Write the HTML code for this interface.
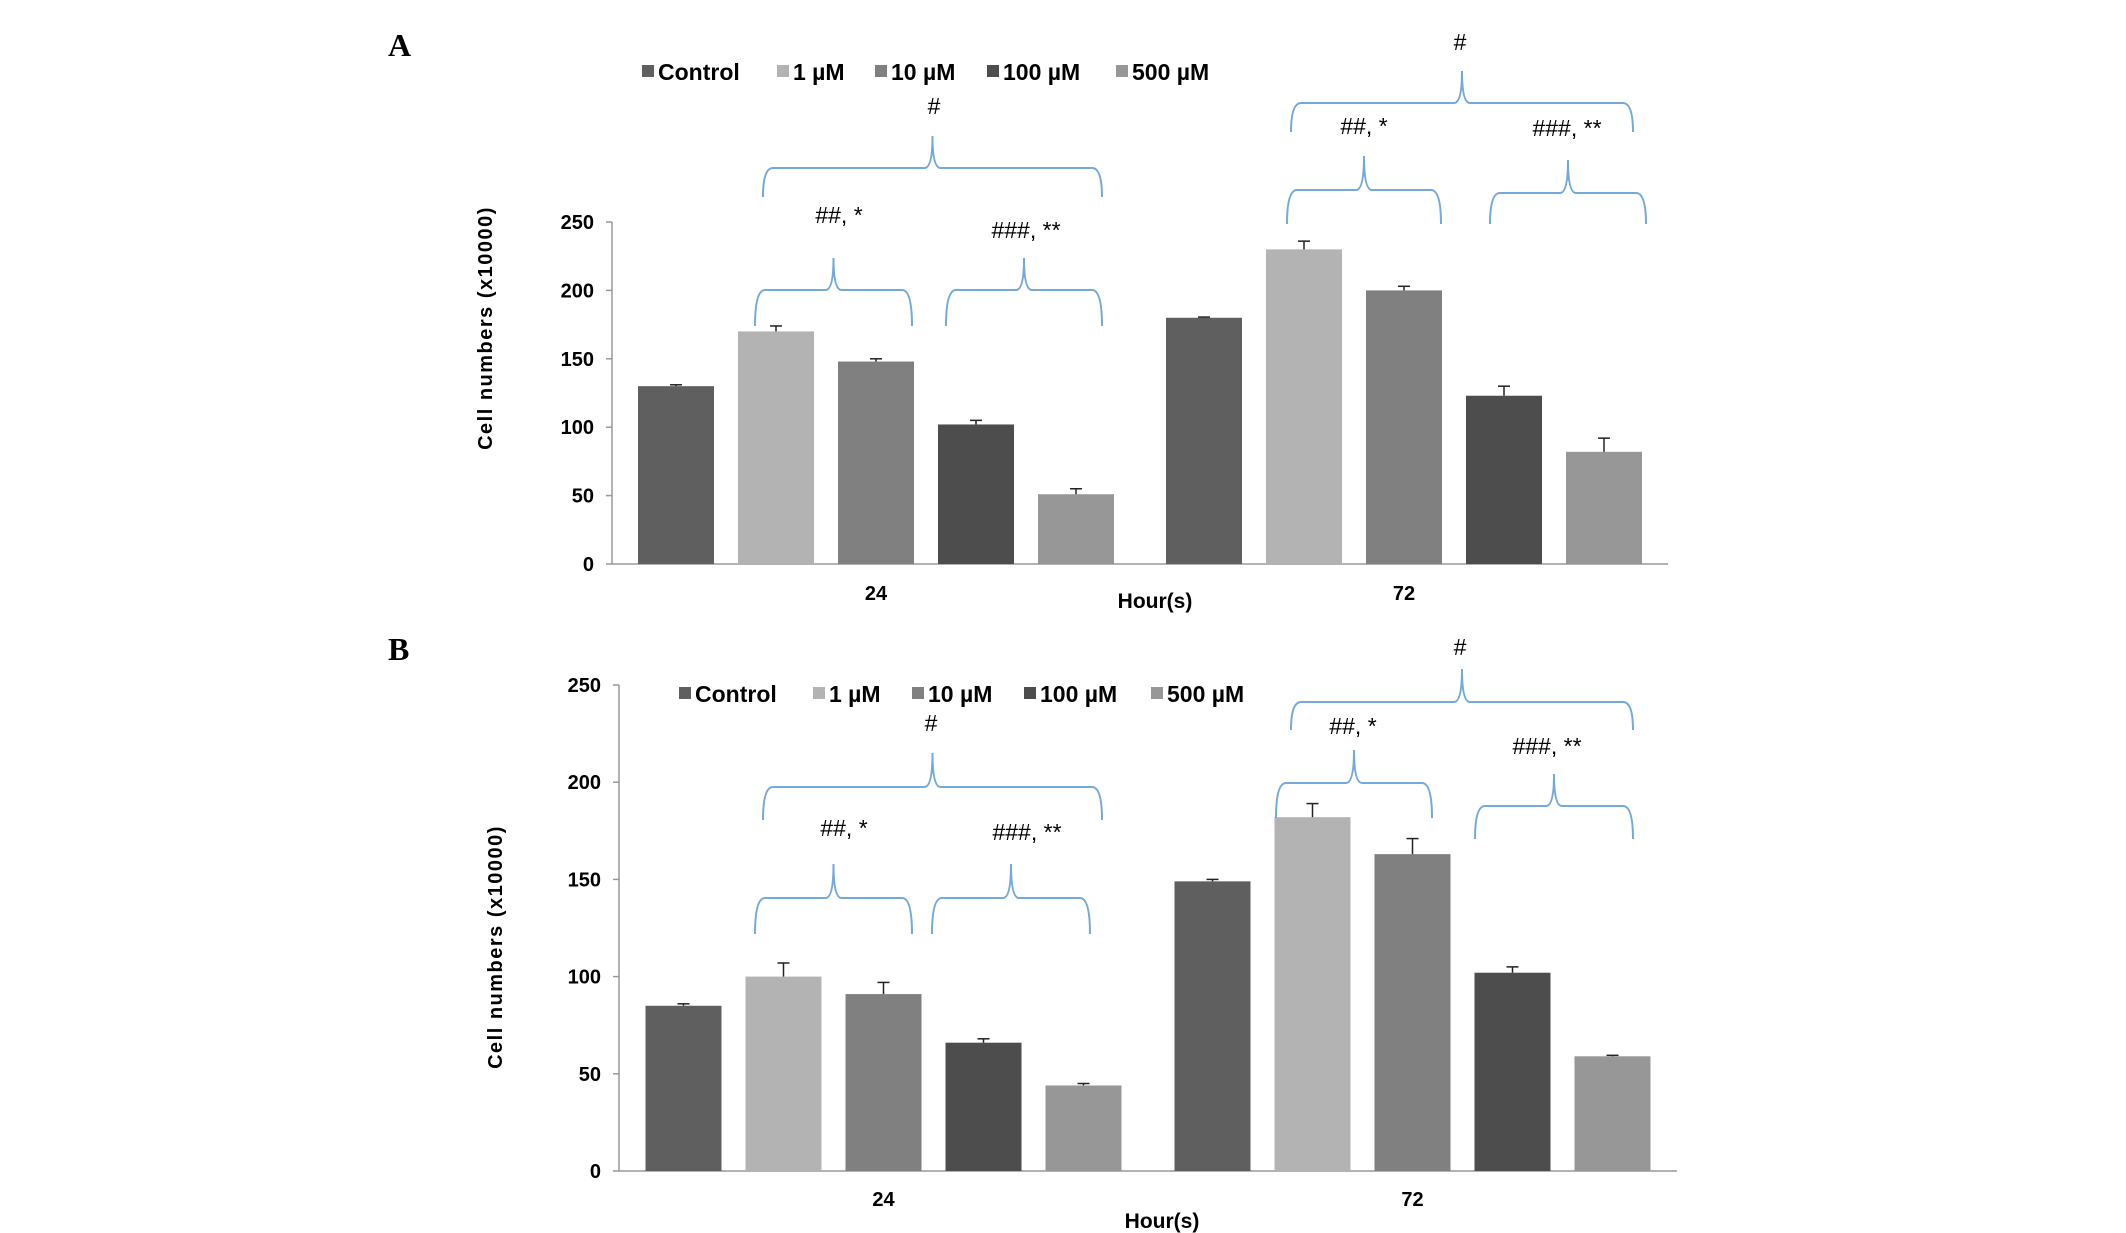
<!DOCTYPE html>
<html><head><meta charset="utf-8"><style>
html,body{margin:0;padding:0;background:#fff;}
svg{display:block;}
</style></head><body>
<svg id="fig" width="2126" height="1233" viewBox="0 0 2126 1233" xmlns="http://www.w3.org/2000/svg"></svg>
<script>
const categories = ["24", "72"];
const seriesNames = ["Control", "1 µM", "10 µM", "100 µM", "500 µM"];
const seriesColors = ["#5f5f5f", "#b3b3b3", "#808080", "#4d4d4d", "#979797"];
const yTicks = [0, 50, 100, 150, 200, 250];
// Panel A values [series][category]
const aControl = [130, 180];
const a1uM = [170, 230];
const a10uM = [148, 200];
const a100uM = [102, 123];
const a500uM = [51, 82];
const aErrors = [[1, 0.5], [4, 6], [2, 3], [3, 7], [4, 10]];
// Panel B values
const bControl = [85, 149];
const b1uM = [100, 182];
const b10uM = [91, 163];
const b100uM = [66, 102];
const b500uM = [44, 59];
const bErrors = [[1, 1], [7, 7], [6, 8], [2, 3], [1, 0.5]];

const NS = "http://www.w3.org/2000/svg";
const svg = document.getElementById('fig');
function mk(tag, attrs, parent) {
  const e = document.createElementNS(NS, tag);
  for (const k in attrs) e.setAttribute(k, attrs[k]);
  (parent || svg).appendChild(e);
  return e;
}
function txt(s, attrs, parent) { const t = mk('text', attrs, parent); t.textContent = s; return t; }

function panel(cfg) {
  const g = mk('g', {});
  
  
  const yScale = v => cfg.y0 - (v / 250) * (cfg.y0 - cfg.y250);
  const catW = (cfg.xR - cfg.xL) / categories.length;
  const xBar = (ci, si) => cfg.xL + catW * ci + catW / 2 - 250 + 12 + si * 100;
  const L = txt(cfg.letter, {x: cfg.letterX, y: cfg.letterY, 'font-family': 'Liberation Serif, serif', 'font-weight': 'bold', 'font-size': 32}, g);
  
  
  const ax = mk('line', {x1: cfg.xL, y1: cfg.y250, x2: cfg.xL, y2: cfg.y0, stroke: '#999', 'stroke-width': 1.5}, g);
  
  
  const xa = mk('line', {x1: cfg.xL, y1: cfg.y0, x2: cfg.xR, y2: cfg.y0, stroke: '#999', 'stroke-width': 1.5}, g);
  
  
  yTicks.forEach(v => {
    const y = yScale(v);
    mk('line', {x1: cfg.xL - 6, y1: y, x2: cfg.xL, y2: y, stroke: '#999', 'stroke-width': 1.5}, g);
    const t = txt(String(v), {x: cfg.xL - 18, y: y + 7, 'text-anchor': 'end', 'font-family': 'Liberation Sans, sans-serif', 'font-weight': 'bold', 'font-size': 20}, g);
    
    
  });
  const yt = txt('Cell numbers (x10000)', {x: 0, y: 0, transform: `translate(${cfg.ytX},${cfg.ytY}) rotate(-90)`, 'text-anchor': 'middle', 'font-family': 'Liberation Sans, sans-serif', 'font-weight': 'bold', 'font-size': 20, 'letter-spacing': 1.5}, g);
  
  
  cfg.values.forEach((arr, si) => {
    arr.forEach((v, ci) => {
      const x = xBar(ci, si), y = yScale(v);
      const r = mk('rect', {x: x, y: y, width: 76, height: cfg.y0 - y, fill: seriesColors[si]}, g);
      
      
      const ey = yScale(v + cfg.errors[si][ci]);
      const cx = x + 38;
      mk('line', {x1: cx, y1: y, x2: cx, y2: ey, stroke: '#222', 'stroke-width': 1.5}, g);
      mk('line', {x1: cx - 6, y1: ey, x2: cx + 6, y2: ey, stroke: '#222', 'stroke-width': 1.5}, g);
    });
  });
  categories.forEach((c, ci) => {
    const t = txt(c, {x: cfg.xL + catW * ci + catW / 2, y: cfg.catY, 'text-anchor': 'middle', 'font-family': 'Liberation Sans, sans-serif', 'font-weight': 'bold', 'font-size': 20}, g);
    
    
  });
  const xt = txt('Hour(s)', {x: cfg.xtX, y: cfg.xtY, 'text-anchor': 'middle', 'font-family': 'Liberation Sans, sans-serif', 'font-weight': 'bold', 'font-size': 21}, g);
  
  
  seriesNames.forEach((n, si) => {
    const lx = cfg.legX[si];
    mk('rect', {x: lx, y: cfg.legY - 7, width: 12, height: 12, fill: seriesColors[si]}, g);
    const t = txt(n, {x: lx + 16, y: cfg.legY + 8, 'font-family': 'Liberation Sans, sans-serif', 'font-weight': 'bold', 'font-size': 23}, g);
    
    
  });
  cfg.braces.forEach(b => {
    const [x1, x2, h, leg, peak, label, lx, ly] = b;
    const cx = (x1 + x2) / 2;
    const d = `M${x1},${leg} Q${x1},${h} ${x1 + 10},${h} L${cx - 8},${h} Q${cx},${h} ${cx},${peak} Q${cx},${h} ${cx + 8},${h} L${x2 - 10},${h} Q${x2},${h} ${x2},${leg}`;
    const p = mk('path', {d: d, fill: 'none', stroke: '#74a9dc', 'stroke-width': 2}, g);
    
    
    const t = txt(label, {x: lx, y: ly + 8, 'text-anchor': 'middle', 'font-family': 'Liberation Sans, sans-serif', 'font-size': 23}, g);
    
    
  });
}

panel({
  name: 'panel-a', letter: 'A', letterX: 388, letterY: 56,
  xL: 612, xR: 1668, y0: 564, y250: 222,
  values: [aControl, a1uM, a10uM, a100uM, a500uM], errors: aErrors,
  ytX: 492, ytY: 328, catY: 600, xtX: 1155, xtY: 608,
  legY: 72, legX: [642, 777, 875, 987, 1116],
  braces: [
    [763, 1102, 168, 197, 136, '#', 934, 106],
    [755, 912, 290, 326, 258, '##, *', 839, 215],
    [946, 1102, 290, 326, 258, '###, **', 1026, 230],
    [1291, 1633, 103, 132, 71, '#', 1460, 42],
    [1287, 1441, 190, 224, 156, '##, *', 1364, 126],
    [1490, 1646, 193, 224, 160, '###, **', 1567, 128]
  ]
});
panel({
  name: 'panel-b', letter: 'B', letterX: 388, letterY: 660,
  xL: 619, xR: 1677, y0: 1171, y250: 685,
  values: [bControl, b1uM, b10uM, b100uM, b500uM], errors: bErrors,
  ytX: 502, ytY: 947, catY: 1206, xtX: 1162, xtY: 1228,
  legY: 694, legX: [679, 813, 912, 1024, 1151],
  braces: [
    [763, 1102, 787, 820, 753, '#', 931, 723],
    [755, 912, 898, 934, 864, '##, *', 844, 828],
    [932, 1090, 898, 934, 864, '###, **', 1027, 832],
    [1291, 1633, 702, 730, 669, '#', 1460, 647],
    [1276, 1432, 783, 818, 750, '##, *', 1353, 726],
    [1475, 1633, 806, 839, 774, '###, **', 1547, 746]
  ]
});
</script>
</body></html>
